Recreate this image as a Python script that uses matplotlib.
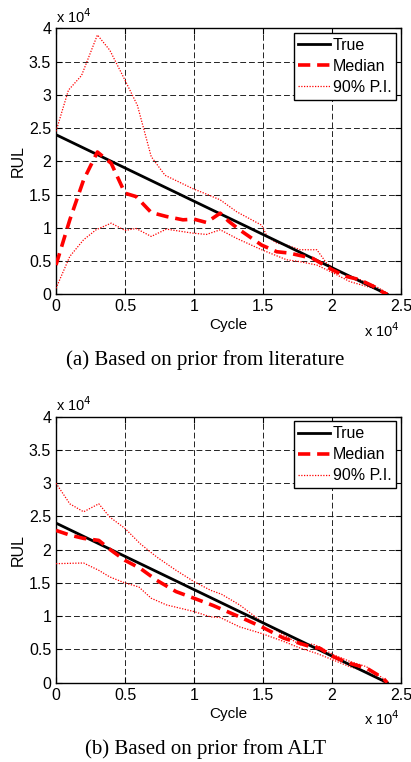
import matplotlib
matplotlib.use("Agg")
import matplotlib.pyplot as plt
from matplotlib.ticker import FuncFormatter, MultipleLocator

plt.rcParams['font.family'] = ['Liberation Sans', 'DejaVu Sans']

# all values in units of 1e4 (cycles / RUL)
true_x = [0, 2.4]
true_y = [2.4, 0]

# (a) prior from literature
median_a_x = [0, 0.1, 0.2, 0.3, 0.4, 0.5, 0.58, 0.69, 0.8, 0.92, 1.0, 1.09, 1.19, 1.25,
              1.33, 1.49, 1.6, 1.69, 1.86, 2.0, 2.1, 2.2, 2.3, 2.37, 2.4]
median_a_y = [0.44, 1.12, 1.72, 2.14, 1.97, 1.52, 1.47, 1.23, 1.17, 1.12, 1.13, 1.08, 1.22, 1.1,
              0.97, 0.74, 0.64, 0.62, 0.54, 0.37, 0.27, 0.22, 0.12, 0.03, 0.0]
upper_a_x = [0, 0.09, 0.185, 0.3, 0.39, 0.5, 0.59, 0.69, 0.79, 0.99, 1.11, 1.19, 1.31,
             1.49, 1.53, 1.6, 1.67, 1.77, 1.89, 1.96, 2.06, 2.18, 2.3, 2.4]
upper_a_y = [2.45, 3.07, 3.29, 3.9, 3.67, 3.22, 2.84, 2.07, 1.79, 1.59, 1.49, 1.42, 1.24,
             1.04, 0.87, 0.77, 0.74, 0.67, 0.67, 0.47, 0.32, 0.24, 0.14, 0.02]
lower_a_x = [0, 0.1, 0.2, 0.29, 0.4, 0.5, 0.58, 0.69, 0.8, 0.99, 1.09, 1.19, 1.31,
             1.49, 1.67, 1.77, 1.89, 2.01, 2.13, 2.3, 2.4]
lower_a_y = [0.09, 0.57, 0.82, 0.97, 1.07, 0.96, 0.99, 0.87, 0.98, 0.92, 0.9, 0.97, 0.84,
             0.67, 0.52, 0.49, 0.44, 0.32, 0.19, 0.09, 0.0]

# (b) prior from ALT
median_b_x = [0, 0.1, 0.2, 0.31, 0.4, 0.5, 0.61, 0.73, 0.87, 1.0, 1.14, 1.24, 1.33, 1.49,
              1.65, 1.77, 1.86, 1.91, 2.01, 2.13, 2.25, 2.37, 2.4]
median_b_y = [2.29, 2.22, 2.17, 2.14, 1.99, 1.84, 1.72, 1.54, 1.37, 1.27, 1.16, 1.07, 0.99, 0.84,
              0.67, 0.59, 0.53, 0.52, 0.39, 0.29, 0.22, 0.07, 0.0]
upper_b_x = [0, 0.1, 0.2, 0.31, 0.39, 0.5, 0.61, 0.73, 0.87, 1.0, 1.12, 1.2, 1.33, 1.49,
             1.65, 1.77, 1.86, 1.91, 2.01, 2.13, 2.25, 2.38, 2.4]
upper_b_y = [3.0, 2.69, 2.57, 2.69, 2.49, 2.32, 2.09, 1.89, 1.69, 1.52, 1.39, 1.33, 1.17, 0.92,
             0.72, 0.57, 0.58, 0.54, 0.42, 0.32, 0.24, 0.05, 0.02]
lower_b_x = [0, 0.2, 0.31, 0.39, 0.5, 0.6, 0.69, 0.8, 1.0, 1.12, 1.19, 1.33, 1.49, 1.65,
             1.77, 1.89, 2.01, 2.13, 2.25, 2.38]
lower_b_y = [1.79, 1.8, 1.69, 1.59, 1.5, 1.44, 1.27, 1.17, 1.07, 0.99, 0.98, 0.84, 0.74, 0.62,
             0.52, 0.44, 0.34, 0.24, 0.17, 0.0]

legend_labels = ["True", "Median", "90% P.I."]
captions = ["(a) Based on prior from literature", "(b) Based on prior from ALT"]

W, H = 411, 762
fig = plt.figure(figsize=(W / 100, H / 100), dpi=100)

panels = [
    (median_a_x, median_a_y, upper_a_x, upper_a_y, lower_a_x, lower_a_y, 294.3),
    (median_b_x, median_b_y, upper_b_x, upper_b_y, lower_b_x, lower_b_y, 682.7),
]

fmt = FuncFormatter(lambda v, p: "%g" % v)

for i, (mx, my, ux, uy, lx, ly, bottom_px) in enumerate(panels):
    ax = fig.add_axes([56 / W, 1 - bottom_px / H, 345 / W, 266 / H])
    ax.plot(true_x, true_y, color='k', lw=2.0, label=legend_labels[0], zorder=4)
    ax.plot(mx, my, color='red', lw=2.6, linestyle=(0, (3.4, 1.9)), label=legend_labels[1], zorder=5)
    ax.plot(ux, uy, color='red', lw=0.9, linestyle=(0, (1, 1.2)), label=legend_labels[2], zorder=3)
    ax.plot(lx, ly, color='red', lw=0.9, linestyle=(0, (1, 1.2)), zorder=3)

    ax.set_xlim(0, 2.5)
    ax.set_ylim(0, 4)
    ax.xaxis.set_major_locator(MultipleLocator(0.5))
    ax.yaxis.set_major_locator(MultipleLocator(0.5))
    ax.xaxis.set_major_formatter(fmt)
    ax.yaxis.set_major_formatter(fmt)
    ax.tick_params(direction='in', top=True, right=True, length=4, width=0.8,
                   labelsize=11.5, pad=3.5)
    ax.grid(True, color='k', linestyle=(0, (7, 3.5)), linewidth=0.6)
    for s in ax.spines.values():
        s.set_linewidth(1.0)

    ax.set_xlabel("Cycle", fontsize=11, labelpad=3)
    ax.set_ylabel("RUL", fontsize=11.5, labelpad=2)
    ax.text(0.0, 1.01, r"x 10$^4$", transform=ax.transAxes, fontsize=10.5,
            ha='left', va='bottom')
    ax.text(0.995, -0.1, r"x 10$^4$", transform=ax.transAxes, fontsize=10.5,
            ha='right', va='top')

    leg = ax.legend(loc='upper right', fontsize=11.5, fancybox=False, framealpha=1,
                    edgecolor='k', handlelength=2.0, handletextpad=0.15,
                    labelspacing=0.38, borderaxespad=0.3, borderpad=0.3)
    leg.get_frame().set_linewidth(1.0)

    fig.text(0.5, 1 - (bottom_px + 66) / H, captions[i], ha='center', va='center',
             fontsize=15, family=['Liberation Serif', 'DejaVu Serif'])

fig.savefig("out.png", dpi=100)
